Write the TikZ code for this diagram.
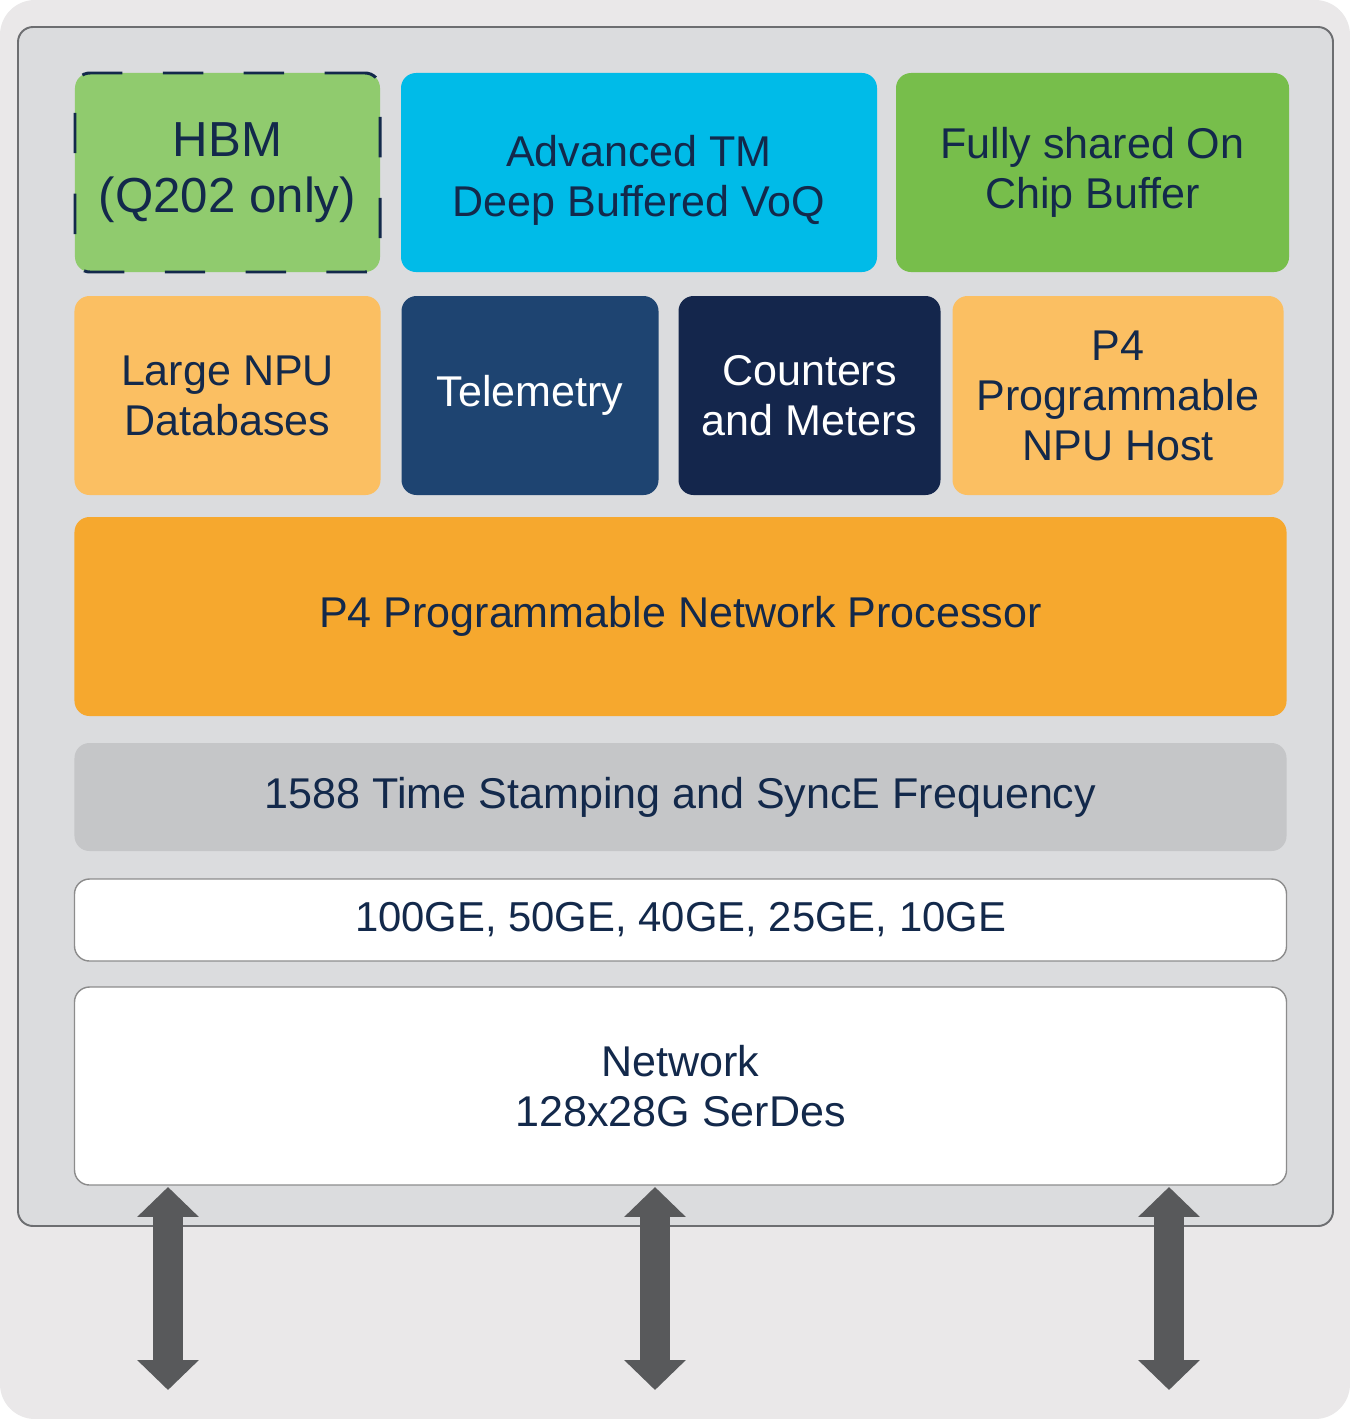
\documentclass[tikz,border=0pt]{standalone}
\usepackage{fontspec}
\setmainfont{Liberation Sans}
\usetikzlibrary{positioning,arrows.meta}

\definecolor{cbg}{HTML}{EAE8E9}
\definecolor{cchip}{HTML}{DBDCDE}
\definecolor{cedge}{HTML}{6D6E71}
\definecolor{cnavy}{HTML}{13294B}
\definecolor{chbm}{HTML}{90CB6E}
\definecolor{ccyan}{HTML}{00BBE8}
\definecolor{cbuf}{HTML}{77BE4B}
\definecolor{cpale}{HTML}{FBBF62}
\definecolor{ctele}{HTML}{1E4471}
\definecolor{ccnt}{HTML}{14264C}
\definecolor{cnpu}{HTML}{F6A82E}
\definecolor{csync}{HTML}{C5C6C8}
\definecolor{carrow}{HTML}{58595B}

\begin{document}
\begin{tikzpicture}[
  x=0.2mm, y=-0.2mm,
  font=\fontsize{24.5}{28.5}\selectfont,
  blk/.style={rounded corners=3mm, align=center, inner sep=0pt, outer sep=0pt,
              text=cnavy, minimum height=39.8mm},
  dark/.style={blk, text=white},
  wide/.style={blk, minimum width=242.4mm},
  port/.style={wide, fill=white, draw=black!45, line width=0.8pt},
  bigarrow/.style={draw=carrow, line width=17.6pt,
                   {Triangle[length=17pt,width=34pt]}-{Triangle[length=17pt,width=34pt]}},
]
\useasboundingbox (0,0) rectangle (1350,1419);
\fill[white] (0,0) rectangle (1350,1419);
\fill[cbg, rounded corners=7mm] (0,0) rectangle (1350,1419);
% chip outline
\draw[fill=cchip, draw=cedge, line width=1.1pt, rounded corners=3mm] (18,27) rectangle (1333,1226);

% ---- top row: memories ----
\node[blk, fill=chbm, minimum width=61mm, draw=cnavy, line width=1.7pt,
      dash pattern=on 23pt off 23pt, font=\fontsize{28}{31.5}\selectfont]
  (hbm) at (227.5,172.5) {HBM\\(Q202 only)};
\node[blk, fill=ccyan, minimum width=95.2mm, text height=55pt, right=4.2mm of hbm] (tm)
  {Advanced TM\\Deep Buffered VoQ};
\node[blk, fill=cbuf, minimum width=78.6mm, right=3.8mm of tm] (buf)
  {Fully shared On\\Chip Buffer};

% ---- second row ----
\node[blk, fill=cpale, minimum width=61.2mm, below=4.8mm of hbm] (npudb)
  {Large NPU\\Databases};
\node[dark, fill=ctele, minimum width=51.4mm, right=4.2mm of npudb] (tele) {Telemetry};
\node[dark, fill=ccnt, minimum width=52.4mm, right=4mm of tele] (cnt)
  {Counters\\and Meters};
\node[blk, fill=cpale, minimum width=66.2mm, right=2.4mm of cnt] (host)
  {P4\\Programmable\\NPU Host};

% ---- full width layers ----
\node[wide, fill=cnpu, below=4.4mm of npudb.south west, anchor=north west] (npu)
  {P4 Programmable Network Processor};
\node[wide, fill=csync, minimum height=21.6mm, below=5.4mm of npu] (sync)
  {1588 Time Stamping and SyncE Frequency};
\node[port, minimum height=16.4mm, font=\fontsize{23.8}{28.5}\selectfont,
      below=5.6mm of sync] (eth)
  {100GE, 50GE, 40GE, 25GE, 10GE};
\node[port, minimum height=39.6mm, below=5.2mm of eth] (serdes)
  {Network\\128x28G SerDes};

% ---- serdes lanes ----
\coordinate (lane1) at (168,1187);  \coordinate (out1) at (168,1390);
\coordinate (lane2) at (655,1187);  \coordinate (out2) at (655,1390);
\coordinate (lane3) at (1169,1187); \coordinate (out3) at (1169,1390);
\draw[bigarrow] (lane1) -- (out1);
\draw[bigarrow] (lane2) -- (out2);
\draw[bigarrow] (lane3) -- (out3);
\end{tikzpicture}
\end{document}
